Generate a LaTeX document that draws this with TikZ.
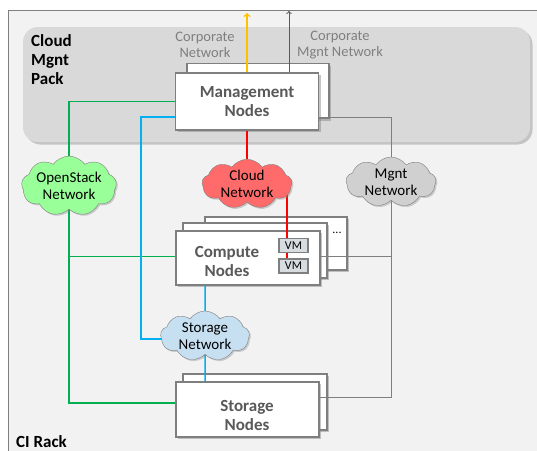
\documentclass[tikz,border=0pt]{standalone}
\usepackage{fontspec}
\setmainfont{Carlito}
\usepackage{tikz}
\usetikzlibrary{shapes.symbols}
\usetikzlibrary{shadows}
\definecolor{rackbg}{HTML}{F2F2F2}
\definecolor{packbg}{HTML}{D9D9D9}
\definecolor{boxline}{HTML}{7F7F7F}
\definecolor{boxtext}{HTML}{595959}
\definecolor{vmbg}{HTML}{D6DCE0}
\definecolor{osgreen}{HTML}{99FF99}
\definecolor{cloudred}{HTML}{FF6B6B}
\definecolor{mgntgray}{HTML}{D0D0D0}
\definecolor{storblue}{HTML}{C6E0F2}
\definecolor{wgreen}{HTML}{00B050}
\definecolor{wblue}{HTML}{00B0F0}
\definecolor{wred}{HTML}{FF0000}
\definecolor{worange}{HTML}{FFC000}
\pgfdeclarelayer{back}
\pgfdeclarelayer{stack}
\pgfdeclarelayer{wires}
\pgfsetlayers{back,stack,wires,main}

\begin{document}
\begin{tikzpicture}[x=1pt,y=-1pt,
    nodebox/.style={draw=boxline,line width=1.2pt,fill=white,inner sep=0pt,
      drop shadow={opacity=.45,shadow xshift=2pt,shadow yshift=-2pt}},
    boxlabel/.style={text=boxtext,align=center,font=\fontsize{17}{19}\selectfont\bfseries},
    net/.style={cloud,cloud puffs=9,cloud puff arc=110,aspect=2,draw=boxline,
      inner sep=0pt,align=center,font=\fontsize{15}{16.5}\selectfont,
      drop shadow={opacity=.35,shadow xshift=1.5pt,shadow yshift=-1.5pt}},
    vmbox/.style={draw=boxline,line width=1.5pt,fill=vmbg,inner sep=0pt,
      minimum width=29pt,minimum height=14pt,font=\fontsize{12}{12}\selectfont},
    corp/.style={text=boxline,align=center,font=\fontsize{14.5}{16}\selectfont},
    gnet/.style={draw=wgreen,line width=1.5pt},
    bnet/.style={draw=wblue,line width=1.5pt},
    rnet/.style={draw=wred,line width=1.5pt},
    mnet/.style={draw=boxline,line width=1pt}]
  \useasboundingbox (0,0) rectangle (537,450);

  \begin{pgfonlayer}{back}
    \draw[boxline,fill=rackbg,line width=1pt] (8,10) rectangle (560,470);
    \fill[packbg,rounded corners=15pt,
      drop shadow={opacity=.4,shadow xshift=2.5pt,shadow yshift=-2.5pt}]
      (23,27) rectangle (530,142);
  \end{pgfonlayer}

  \node[anchor=north west,inner sep=0pt,align=left,
    font=\fontsize{17}{19}\selectfont\bfseries] (pack) at (31,34) {Cloud\\Mgnt\\Pack};
  \node[anchor=base west,inner sep=0pt,
    font=\fontsize{17}{19}\selectfont\bfseries] (rack) at (16,447) {CI Rack};

  \begin{pgfonlayer}{stack}
    \node[nodebox,minimum width=142pt,minimum height=55pt] (mgmtback) at (258,91) {};
    \node[nodebox,minimum width=143pt,minimum height=57pt,boxlabel] (mgmt) at (247,101.5) {Management\\Nodes};
    \node[nodebox,minimum width=142pt,minimum height=53pt] (compback) at (276,243.5) {};
    \node[nodebox,minimum width=144pt,minimum height=55pt] (compmid) at (255,250.5) {};
    \node[nodebox,minimum width=144pt,minimum height=54pt] (comp) at (248,258) {};
    \node[nodebox,minimum width=144pt,minimum height=56pt] (storback) at (255,402) {};
    \node[nodebox,minimum width=143pt,minimum height=55pt] (stor) at (247.5,409.5) {};
  \end{pgfonlayer}

  \node[boxlabel] (comptext) at (227,261) {Compute\\Nodes};
  \node[boxlabel] (stortext) at (247,415) {Storage\\Nodes};
  \node[font=\fontsize{12}{12}\selectfont] (more) at (337,233) {...};
  \node[vmbox] (vmA) at (293.5,245.5) {VM};
  \node[vmbox] (vmB) at (293.5,266) {VM};

  \node[net,fill=osgreen,minimum width=92pt,minimum height=46pt] (os) at (69,186) {OpenStack\\Network};
  \node[net,fill=cloudred,minimum width=90pt,minimum height=48pt] (cn) at (247,184) {Cloud\\Network};
  \node[net,fill=mgntgray,minimum width=90pt,minimum height=50pt] (mn) at (391,182) {Mgnt\\Network};
  \node[net,fill=storblue,minimum width=89pt,minimum height=50pt] (sn) at (205,336) {Storage\\Network};

  \node[corp] (corpnet) at (205,45) {Corporate\\Network};
  \node[corp] (corpmgnt) at (340,45) {Corporate\\Mgnt Network};
  \coordinate (corpup) at (247,13);
  \coordinate (mgntup) at (289,11);
  \coordinate (bturn) at (141,339);

  \begin{pgfonlayer}{wires}
    \draw[gnet] (mgmt.west) -| (os) |- ([yshift=1.5pt]comp.west);
    \draw[gnet] (os) |- ([yshift=6.5pt]stor.west);
    \draw[bnet] ([yshift=-15.5pt]mgmt.west) -| (bturn) -- (bturn -| sn.center);
    \draw[bnet] (sn |- comp.south) -- (sn) -- (sn |- stor.north);
    \draw[rnet] (mgmt.south) -- (cn);
    \draw[rnet] ([xshift=-6.5pt]vmA.north |- cn) -- ([xshift=-6.5pt]vmA.north);
    \draw[rnet] ([xshift=-6.5pt]vmA.south) -- ([xshift=-6.5pt]vmB.north);
    \draw[mnet] ([yshift=-15.5pt]mgmt.east) -| (mn) |- ([yshift=12.5pt]stor.east);
    \draw[mnet] ([yshift=1.5pt]comp.east) -- ([yshift=1.5pt]comp.east -| mn);
    \draw[draw=worange,line width=1.5pt,->] (mgmt.north) -- (corpup);
    \draw[draw=boxtext,line width=1pt,->] (mgntup |- mgmt.north) -- (mgntup);
  \end{pgfonlayer}
\end{tikzpicture}
\end{document}
